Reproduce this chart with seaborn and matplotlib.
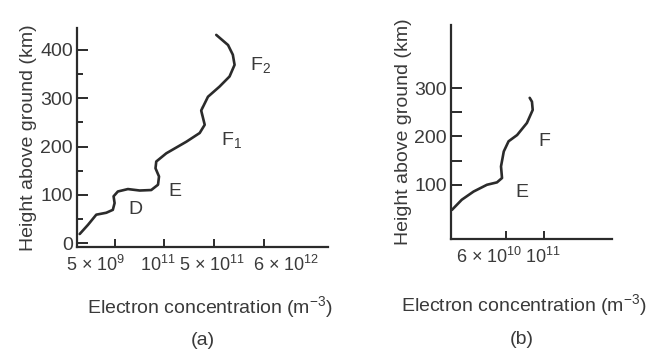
import matplotlib
matplotlib.use("Agg")
import matplotlib.pyplot as plt
import seaborn as sns
import pandas as pd

# Panel (a): daytime profile, x in schematic units along the concentration axis
a_x = [0.11, 0.44, 0.77, 1.17, 1.43, 1.50, 1.46, 1.63, 2.03, 2.50, 2.96, 3.23, 3.27, 3.13,
       3.16, 3.56, 4.36, 4.89, 5.09, 4.95, 4.95, 5.22, 5.68, 6.08, 6.28, 6.21, 6.02, 5.55]
a_h = [19, 38, 59, 63, 69, 83, 97, 107, 112, 109, 110, 121, 138, 155,
       169, 186, 210, 228, 245, 266, 283, 303, 324, 345, 369, 390, 410, 431]
a_tick_pos = [1.5, 3.45, 5.45, 7.45]
a_tick_labels = ["5 × 10$^{9}$", "10$^{11}$", "5 × 10$^{11}$", "6 × 10$^{12}$"]
a_layers = ["D", "E", "F$_1$", "F$_2$"]
a_layer_x = [2.03, 3.63, 5.75, 6.88]
a_layer_h = [69, 107, 214, 369]

# Panel (b): night-time profile
b_x = [0.03, 0.42, 0.89, 1.42, 1.82, 2.02, 1.98, 2.09, 2.28, 2.62, 3.01, 3.24, 3.21, 3.12]
b_h = [48, 69, 86, 100, 105, 114, 138, 169, 190, 203, 228, 255, 272, 280]
b_tick_pos = [2.18, 3.70]
b_tick_labels = ["6 × 10$^{10}$", "10$^{11}$"]
b_layers = ["E", "F"]
b_layer_x = [2.55, 3.48]
b_layer_h = [83, 190]

sns.set_style("ticks")
plt.rcParams["font.family"] = ["Liberation Sans", "DejaVu Sans"]
plt.rcParams["mathtext.fontset"] = "custom"
plt.rcParams["mathtext.rm"] = "Liberation Sans"
plt.rcParams["mathtext.it"] = "Liberation Sans"

ink = "#2b2b2b"
text_c = "#3a3a3a"
fs = 14

fig = plt.figure(figsize=(6.52, 3.56), dpi=100)
ax_a = fig.add_axes([0.118, 0.306, 0.385, 0.615])
ax_b = fig.add_axes([0.692, 0.329, 0.247, 0.601])


def draw_panel(ax, xs, hs, xlim, ylim, tick_pos, tick_labels, label_shift, yticks, yminor,
               minor_len, layers, lx, lh, tag, xlab_pos, tag_pos):
    df = pd.DataFrame({"x": xs, "h": hs})
    sns.lineplot(data=df, x="x", y="h", sort=False, ax=ax, color=ink, linewidth=1.9)
    ax.set_xlim(*xlim)
    ax.set_ylim(*ylim)
    sns.despine(ax=ax)
    for s in ["left", "bottom"]:
        ax.spines[s].set_linewidth(1.6)
        ax.spines[s].set_color(ink)
    ax.set_xticks(tick_pos)
    ax.set_xticklabels([""] * len(tick_pos))
    # the original labels sit a little off their ticks, so place them by hand
    for pos, lab, dx in zip(tick_pos, tick_labels, label_shift):
        ax.annotate(lab, xy=(pos, 0), xycoords=("data", "axes fraction"),
                    xytext=(dx * 0.72, -6), textcoords="offset points",
                    ha="center", va="top", fontsize=13, color=text_c)
    ax.set_yticks(yticks)
    ax.set_yticklabels([str(v) for v in yticks], fontsize=fs, color=text_c)
    ax.set_yticks(yminor, minor=True)
    ax.tick_params(axis="x", direction="in", length=6, width=1.4, color=ink)
    ax.tick_params(axis="y", which="major", direction="in", length=8, width=1.4,
                   color=ink, pad=3)
    ax.tick_params(axis="y", which="minor", direction="in", length=minor_len, width=1.4,
                   color=ink)
    for name, x, h in zip(layers, lx, lh):
        ax.text(x, h, name, fontsize=fs, color=text_c, va="center", ha="left")
    ax.set_xlabel("Electron concentration (m$^{-3}$)", fontsize=fs, color=text_c)
    ax.xaxis.set_label_coords(*xlab_pos)
    ax.set_ylabel("Height above ground (km)", fontsize=fs, color=text_c, labelpad=2)
    ax.text(tag_pos[0], tag_pos[1], tag, transform=ax.transAxes, fontsize=fs,
            color=text_c, ha="center", va="center")


draw_panel(ax_a, a_x, a_h, (0, 10), (-8, 445), a_tick_pos, a_tick_labels,
           [-19, -6, -2, 22], [0, 100, 200, 300, 400], [50, 150, 250, 350], 4,
           a_layers, a_layer_x, a_layer_h, "(a)", (0.53, -0.215), (0.5, -0.425))
draw_panel(ax_b, b_x, b_h, (0, 6.4), (-12, 431), b_tick_pos, b_tick_labels,
           [-17, -1], [100, 200, 300], [150, 250], 8,
           b_layers, b_layer_x, b_layer_h, "(b)", (0.453, -0.25), (0.44, -0.472))

fig.savefig("out.png", dpi=100)
